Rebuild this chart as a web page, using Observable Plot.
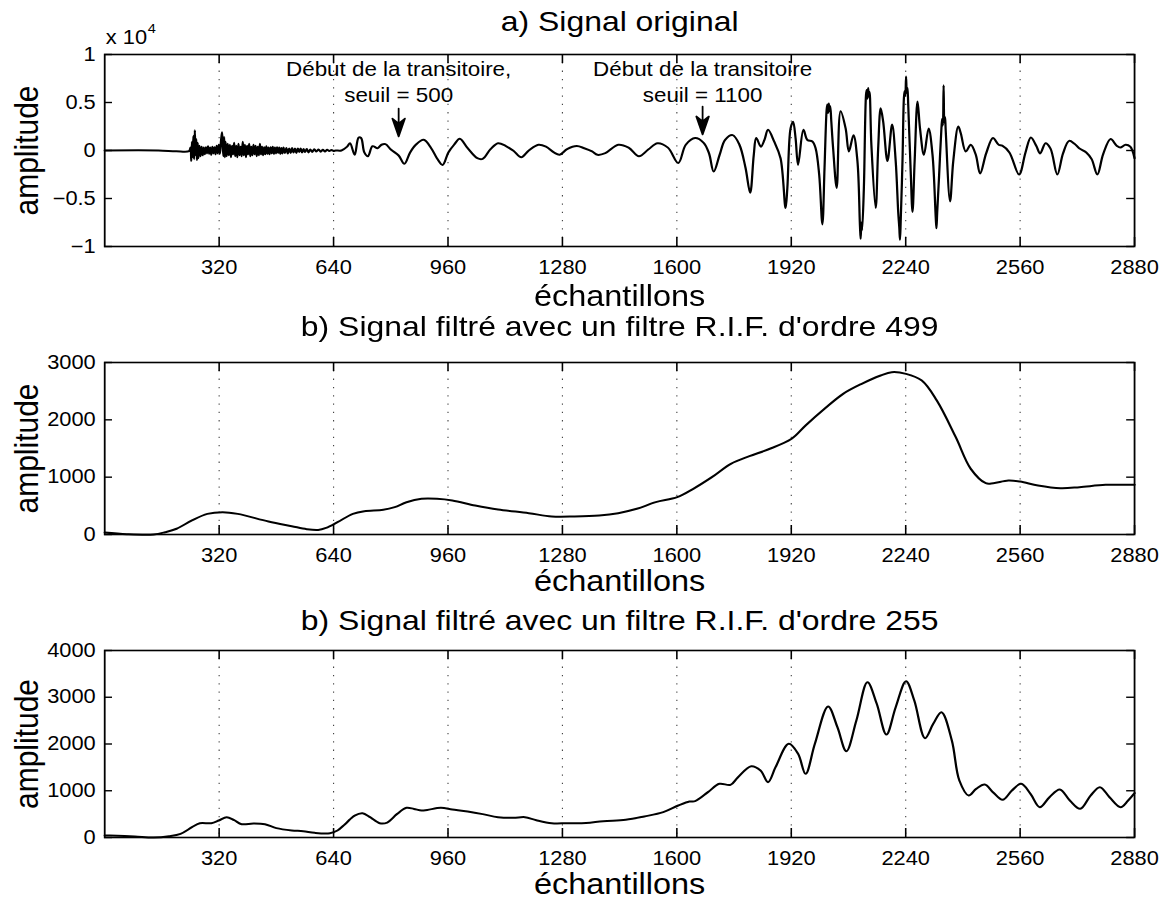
<!DOCTYPE html>
<html>
<head>
<meta charset="utf-8">
<script src="https://cdn.jsdelivr.net/npm/d3@7"></script>
<script src="https://cdn.jsdelivr.net/npm/@observablehq/plot@0.6"></script>
<style>
  body { margin: 0; background: #fff; overflow: hidden; }
  #fig { position: relative; width: 1043px; height: 903px; transform: scaleX(1.12); transform-origin: 0 0; }
  #fig svg { position: absolute; left: 0; }
</style>
</head>
<body>
<div id="fig"></div>
<script>
// ---------- data ----------
const xTickValues = [320, 640, 960, 1280, 1600, 1920, 2240, 2560, 2880];
const yTicksA = [-10000, -5000, 0, 5000, 10000];
const yTicksB = [0, 1000, 2000, 3000];
const yTicksC = [0, 1000, 2000, 3000, 4000];

const titleA = "a) Signal original";
const titleB = "b) Signal filtré avec un filtre R.I.F. d'ordre 499";
const titleC = "b) Signal filtré avec un filtre R.I.F. d'ordre 255";
const xLabel = "échantillons";
const yLabel = "amplitude";

const annotationSamples = [822, 1672];
const annotationLabels = ["Début de la transitoire,\nseuil = 500", "Début de la transitoire\nseuil = 1100"];
const arrowTipAmplitudes = [1460, 1670];

// a) original signal [sample, amplitude]
const signalOriginal = [
  [0,0],[150,0],[200,-80],[236,-60],
  [240,300],[242,-1100],[244,900],[246,-700],[248,1500],[250,-900],[252,2100],[254,-500],[256,1200],[258,-1000],
  [260,800],[262,-800],[265,500],[268,-600],[271,400],[274,-500],[277,300],[280,-400],[283,350],[286,-300],
  [289,450],[292,-350],[295,300],[298,-450],[301,400],[304,-300],[307,350],[310,-400],[313,500],[316,-300],
  [319,600],[322,-350],[325,900],[328,1900],[330,600],[332,-600],[334,1400],[336,-700],[338,900],[341,-600],
  [344,700],[347,-500],[350,600],[353,-700],[356,500],[359,-400],[362,800],[365,-600],[368,500],[371,-700],
  [374,700],[377,-500],[380,400],[383,-600],[386,900],[389,-500],[392,600],[395,-700],[398,500],[401,-400],
  [404,700],[407,-600],[410,400],[413,-500],[416,600],[419,-400],[422,500],[425,-600],[428,400],[431,-500],
  [434,700],[437,-400],[440,400],[443,-500],[446,350],[449,-400],[452,450],[455,-350],[458,300],[461,-400],
  [464,350],[467,-300],[470,400],[473,-350],[476,300],[479,-300],[482,350],[485,-250],[488,300],[491,-350],
  [494,250],[497,-300],[500,300],[504,-250],[508,250],[512,-300],[516,200],[520,-250],[524,250],[528,-200],
  [532,200],[536,-250],[540,200],[544,-150],[548,200],[552,-200],[556,150],[560,-150],[565,150],[570,-200],
  [575,100],[580,-150],[586,120],[592,-100],[598,100],[604,-120],[610,80],[616,-100],[622,80],[628,-60],
  [634,50],[640,-40],[646,0],
  [662,0],[678,400],[686,760],[699,-450],[710,1350],[717,1300],[726,-200],[736,-600],[749,450],[763,240],
  [774,600],[785,660],[801,70],[822,-520],[838,-1390],[854,-200],[870,600],[892,1110],[913,240],[929,-800],
  [945,-1500],[961,-200],[977,600],[993,1220],[1015,240],[1042,-800],[1057,-870],[1079,140],[1100,760],
  [1122,460],[1143,-30],[1165,-700],[1186,0],[1213,600],[1234,400],[1256,-200],[1272,-440],[1293,140],
  [1320,460],[1341,240],[1363,-100],[1378,-450],[1400,-280],[1436,600],[1465,300],[1494,-600],[1520,100],
  [1546,760],[1575,300],[1604,-1300],[1625,600],[1651,1300],[1675,800],[1690,-300],[1703,-2200],[1720,-400],
  [1735,1100],[1756,1600],[1775,600],[1792,-1800],[1805,-4400],[1815,-500],[1822,1300],[1835,400],[1845,1100],
  [1855,2150],[1872,940],[1890,-800],[1904,-6000],[1909,-3900],[1918,2300],[1925,3000],[1932,1300],[1939,-1500],
  [1954,2150],[1965,1100],[1979,940],[1988,240],[1998,-2500],[2007,-7700],[2013,-1800],[2019,4300],[2021,4800],
  [2023,3900],[2025,4900],[2027,4100],[2029,4600],[2032,3000],[2037,240],[2047,-3900],[2058,4100],[2072,2300],
  [2081,-100],[2094,1600],[2105,-1100],[2112,-7800],[2114,-9200],[2116,-7500],[2118,-8300],[2123,-3900],
  [2129,5800],[2131,6300],[2133,5400],[2135,6500],[2137,5600],[2139,6100],[2144,600],[2156,-6000],[2163,240],
  [2170,4400],[2177,3000],[2189,-1100],[2202,2700],[2212,-1100],[2219,-6400],[2222,-8000],[2224,-9300],
  [2226,-7400],[2231,-1100],[2235,5500],[2237,6200],[2239,5700],[2241,7700],[2243,6000],[2245,6500],[2247,4800],
  [2254,-2200],[2259,-6400],[2265,-1100],[2273,5100],[2280,2300],[2291,-450],[2304,2300],[2315,-450],
  [2324,-7000],[2326,-8100],[2328,-6500],[2333,-2900],[2340,2400],[2342,3300],[2344,2600],[2346,6800],
  [2348,2900],[2350,3500],[2352,2000],[2364,-5300],[2373,-1100],[2387,2500],[2394,1800],[2408,-100],[2422,600],
  [2436,-450],[2448,-2400],[2465,-300],[2484,1300],[2500,600],[2510,500],[2530,-200],[2557,-2500],[2575,-200],
  [2590,1350],[2605,500],[2616,-300],[2631,760],[2645,200],[2664,-2500],[2680,-300],[2697,1000],[2712,700],
  [2725,240],[2745,-200],[2760,-900],[2776,-2500],[2792,-400],[2813,1200],[2830,500],[2840,300],[2855,600],
  [2868,400],[2880,-800]
];

// b) filtered, order 499
const signalFIR499 = [
  [0,35],[62,5],[137,0],[169,40],[201,100],[244,245],[287,360],[330,390],[372,360],[458,227],[523,145],
  [565,93],[597,80],[619,116],[651,215],[694,360],[726,406],[779,430],[811,477],[844,563],[886,622],[929,622],
  [972,593],[1036,506],[1100,436],[1186,372],[1250,314],[1314,314],[1383,331],[1436,372],[1488,448],[1541,564],
  [1601,651],[1646,797],[1698,1000],[1751,1233],[1803,1366],[1855,1482],[1921,1669],[1960,1901],[2013,2192],
  [2065,2453],[2117,2628],[2170,2773],[2201,2831],[2241,2802],[2285,2686],[2327,2337],[2380,1697],[2422,1145],
  [2464,895],[2485,895],[2527,942],[2560,924],[2610,855],[2673,808],[2726,826],[2799,866],[2880,866]
];

// c) filtered, order 255
const signalFIR255 = [
  [0,45],[14,43],[84,21],[137,0],[180,28],[212,78],[244,220],[266,306],[298,306],[319,364],[341,435],[362,370],
  [383,285],[416,300],[448,285],[480,200],[523,150],[555,135],[587,100],[630,93],[651,150],[672,285],[699,470],
  [721,520],[742,435],[769,306],[790,320],[817,500],[844,635],[865,610],[886,577],[902,590],[940,635],[972,600],
  [1015,555],[1057,500],[1100,435],[1143,420],[1175,435],[1207,370],[1250,306],[1293,306],[1346,310],[1394,350],
  [1457,378],[1509,450],[1562,542],[1604,684],[1635,770],[1651,777],[1687,970],[1719,1148],[1750,1126],
  [1771,1290],[1808,1525],[1834,1433],[1855,1184],[1876,1504],[1913,2004],[1939,1790],[1960,1362],[1986,2004],
  [2023,2802],[2049,2360],[2074,1846],[2102,2503],[2133,3322],[2159,2860],[2186,2203],[2212,2787],[2241,3343],
  [2264,2930],[2294,2124],[2317,2432],[2340,2680],[2369,2075],[2390,1219],[2416,898],[2437,1041],[2461,1134],
  [2484,969],[2511,806],[2537,1005],[2563,1148],[2589,934],[2615,649],[2642,862],[2671,1027],[2699,791],
  [2728,613],[2757,898],[2783,1076],[2810,862],[2841,649],[2862,791],[2880,948]
];

// ---------- layout ----------
const W = 1043, ML = 93, MR = 30.5;
const FONT = "'Liberation Sans', Arial, Helvetica, sans-serif";
const fmtA = d => d === 0 ? "0" : (d < 0 ? "\u2212" : "") + String(Math.abs(d) / 10000);
const fmtPlain = d => String(d);

const arrowShape = {
  draw(context, l) {
    context.moveTo(0, 0);
    context.lineTo(0, -l + 12);
    context.moveTo(0, -l);
    context.lineTo(-5.6, -l + 18);
    context.lineTo(0, -l + 13);
    context.lineTo(5.6, -l + 18);
    context.closePath();
  }
};

function panel({data, yDomain, yTicks, yFmt, top, height, mt, mb, title, titleDy, labelDy, curve, extra = []}) {
  const frameH = height - mt - mb;
  const frameW = W - ML - MR;
  const svg = Plot.plot({
    width: W, height,
    marginTop: mt, marginBottom: mb, marginLeft: ML, marginRight: MR,
    style: {fontFamily: FONT, fontSize: "19.5px", background: "white", color: "black", overflow: "visible"},
    x: {domain: [0, 2880]},
    y: {domain: yDomain},
    marks: [
      Plot.ruleX(xTickValues.slice(0, -1), {stroke: "#444", strokeWidth: 1, strokeDasharray: "1.3,7"}),
      Plot.ruleX(xTickValues, {insetTop: frameH - 9, stroke: "black", strokeWidth: 1.4}),
      Plot.ruleX(xTickValues, {insetBottom: frameH - 9, stroke: "black", strokeWidth: 1.4}),
      Plot.ruleY(yTicks, {insetRight: frameW - 7, stroke: "black", strokeWidth: 1.4}),
      Plot.ruleY(yTicks, {insetLeft: frameW - 7, stroke: "black", strokeWidth: 1.4}),
      Plot.axisX(xTickValues, {tickSize: 0, tickPadding: 14, label: null, tickFormat: fmtPlain, fontSize: 19.5}),
      Plot.axisY(yTicks, {tickSize: 0, tickPadding: 8, label: null, tickFormat: yFmt, fontSize: 19.5}),
      Plot.line(data, {x: d => d[0], y: d => d[1], stroke: "black", strokeWidth: 2, curve}),
      Plot.frame({stroke: "black", strokeWidth: 1.6}),
      Plot.text([title], {text: d => d, frameAnchor: "top", textAnchor: "middle", dy: titleDy, lineAnchor: "bottom", fontSize: 28.5}),
      Plot.text([xLabel], {text: d => d, frameAnchor: "bottom", textAnchor: "middle", dy: labelDy, lineAnchor: "bottom", fontSize: 29}),
      Plot.text([yLabel], {text: d => d, frameAnchor: "left", textAnchor: "middle", dx: -69, rotate: -90, lineAnchor: "middle", fontSize: 30}),
      ...extra
    ]
  });
  svg.style.top = top + "px";
  return svg;
}

const annotations = annotationSamples.map((s, i) => ({s, label: annotationLabels[i], tip: arrowTipAmplitudes[i]}));

const fig = document.getElementById("fig");

fig.append(panel({
  data: signalOriginal, yDomain: [-10000, 10000], yTicks: yTicksA, yFmt: fmtA,
  top: 0, height: 310, mt: 54, mb: 64, title: titleA, titleDy: -24, labelDy: 59, curve: "catmull-rom",
  extra: [
    Plot.text(["x 10"], {text: d => d, frameAnchor: "top-left", textAnchor: "start", dx: 1, dy: -11, lineAnchor: "bottom", fontSize: 19.5}),
    Plot.text(["4"], {text: d => d, frameAnchor: "top-left", textAnchor: "start", dx: 38.5, dy: -22, lineAnchor: "bottom", fontSize: 13}),
    Plot.text(annotations, {x: "s", y: () => 5100, text: "label", textAnchor: "middle", lineAnchor: "bottom", lineHeight: 1.3, fontSize: 20}),
    Plot.vector(annotations, {x: "s", y: "tip", length: 28, rotate: 180, anchor: "end", shape: arrowShape, stroke: "black", fill: "black", strokeWidth: 1.6})
  ]
}));

fig.append(panel({
  data: signalFIR499, yDomain: [0, 3000], yTicks: yTicksB, yFmt: fmtPlain,
  top: 310, height: 300, mt: 52, mb: 76, title: titleB, titleDy: -27, labelDy: 56, curve: "catmull-rom"
}));

fig.append(panel({
  data: signalFIR255, yDomain: [0, 4000], yTicks: yTicksC, yFmt: fmtPlain,
  top: 610, height: 293, mt: 40, mb: 66, title: titleC, titleDy: -21, labelDy: 56, curve: "catmull-rom"
}));
</script>
</body>
</html>
